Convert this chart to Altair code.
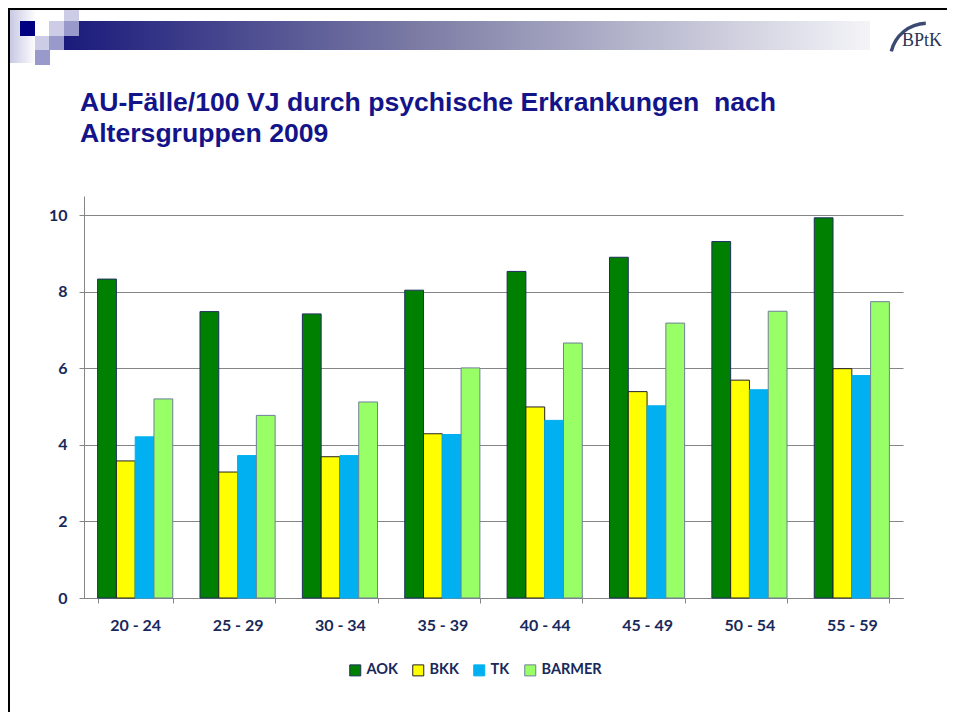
import altair as alt
import pandas as pd

# ---------------- data ----------------
groups = ["20 - 24", "25 - 29", "30 - 34", "35 - 39", "40 - 44", "45 - 49", "50 - 54", "55 - 59"]
series = ["AOK", "BKK", "TK", "BARMER"]
aok = [8.33, 7.48, 7.42, 8.04, 8.53, 8.90, 9.31, 9.93]
bkk = [3.58, 3.29, 3.69, 4.29, 4.99, 5.39, 5.69, 5.99]
tk = [4.21, 3.72, 3.72, 4.27, 4.64, 5.02, 5.44, 5.81]
barmer = [5.20, 4.77, 5.12, 6.01, 6.66, 7.18, 7.49, 7.74]
y_ticks = [0, 2, 4, 6, 8, 10]
title_lines = ["AU-Fälle/100 VJ durch psychische Erkrankungen \u00a0nach", "Altersgruppen 2009"]
logo_text = "BPtK"

fills = ["#008000", "#FFFF00", "#00B0F0", "#99FF66"]
strokes = ["#1F2F5F", "#222222", "#00B0F0", "#6F7F99"]

rows = []
for name, vals in zip(series, [aok, bkk, tk, barmer]):
    for g, v in zip(groups, vals):
        rows.append({"Altersgruppe": g, "Kasse": name, "Wert": v})
df = pd.DataFrame(rows)

# ---------------- layout ----------------
PX0, PY0 = 84, 196          # page position of plot origin
W, H = 819, 402
PAD = {"left": PX0 - 8, "top": PY0 - 8, "right": 939 - (PX0 - 8) - W, "bottom": 704 - (PY0 - 8) - H}

def px(x):
    return x - PX0

def py(y):
    return y - PY0

LABEL = "#18295A"
GRID = "#858585"
TITLE_C = "#14148A"

one = pd.DataFrame({"k": [0]})

stroke_expr = " : ".join(
    [f"datum.value === '{s}' ? '{c}'" for s, c in zip(series, strokes)]) + " : '#333333'"

bars = alt.Chart(df).mark_bar(strokeWidth=1).encode(
    x=alt.X("Altersgruppe:N", sort=groups,
            scale=alt.Scale(paddingInner=0.266, paddingOuter=0.133),
            axis=alt.Axis(title=None, labelAngle=0, tickBand="extent", grid=False,
                          domainColor=GRID, tickColor=GRID, tickSize=5,
                          labelFont="Lato", labelFontSize=16, labelFontWeight="bold",
                          labelColor=LABEL, labelPadding=14)),
    xOffset=alt.XOffset("Kasse:N", sort=series,
                        scale=alt.Scale(paddingInner=0, paddingOuter=0)),
    y=alt.Y("Wert:Q", scale=alt.Scale(domain=[0, 10.5], nice=False),
            axis=alt.Axis(title=None, values=y_ticks, grid=True, gridColor=GRID,
                          domainColor=GRID, tickColor=GRID, tickSize=5,
                          labelFont="Lato", labelFontSize=16, labelFontWeight="bold",
                          labelColor=LABEL, labelPadding=12)),
    color=alt.Color("Kasse:N", sort=series,
                    scale=alt.Scale(domain=series, range=fills),
                    legend=alt.Legend(title=None, orient="none", legendX=264, legendY=467,
                                      direction="horizontal", symbolType="square",
                                      symbolSize=121, symbolStrokeWidth=1,
                                      symbolStrokeColor=alt.ExprRef(expr=stroke_expr),
                                      labelFont="Lato", labelFontSize=14.5,
                                      labelFontWeight="bold", labelColor=LABEL,
                                      labelOffset=4, columnPadding=12)),
    stroke=alt.Stroke("Kasse:N", sort=series,
                      scale=alt.Scale(domain=series, range=strokes),
                      legend=None),
)

# ---------------- decorations ----------------
border_top = alt.Chart(one).mark_rule(color="black", strokeWidth=2).encode(
    x=alt.value(-PAD["left"]), x2=alt.value(939 - PAD["left"]), y=alt.value(py(9)))
border_left = alt.Chart(one).mark_rule(color="black", strokeWidth=2).encode(
    x=alt.value(px(9)), y=alt.value(-PAD["top"]), y2=alt.value(704 - PAD["top"]))

header_grad = alt.LinearGradient(
    gradient="linear", x1=0, x2=1, y1=0, y2=0,
    stops=[alt.GradientStop(color="#1A1A7C", offset=0),
           alt.GradientStop(color="#7E7EA6", offset=0.45),
           alt.GradientStop(color="#F4F4F8", offset=1)])
header_bar = alt.Chart(one).mark_rect(color=header_grad).encode(
    x=alt.value(px(64)), x2=alt.value(px(870)), y=alt.value(py(21)), y2=alt.value(py(50)))

left_grad = alt.LinearGradient(
    gradient="linear", x1=0, x2=1, y1=0, y2=0,
    stops=[alt.GradientStop(color="#C8C8E4", offset=0),
           alt.GradientStop(color="#FFFFFF", offset=1)])
left_strip = alt.Chart(one).mark_rect(color=left_grad).encode(
    x=alt.value(px(10)), x2=alt.value(px(36)), y=alt.value(py(10)), y2=alt.value(py(63)))

sq = pd.DataFrame({
    "x": [px(v) for v in [20, 64, 49, 64, 35, 49, 35]],
    "x2": [px(v) for v in [35, 79, 64, 79, 49, 64, 50]],
    "y": [py(v) for v in [21, 9, 21, 21, 36, 36, 50]],
    "y2": [py(v) for v in [36, 21, 36, 36, 50, 50, 65]],
    "c": ["#000080", "#CCCCE6", "#CCCCE6", "#9999CC", "#CCCCE6", "#9999CC", "#9999CC"],
})
squares = alt.Chart(sq).mark_rect().encode(
    x=alt.X("x:Q", scale=None), x2="x2:Q",
    y=alt.Y("y:Q", scale=None), y2="y2:Q",
    color=alt.Color("c:N", scale=None))

logo_arc = alt.Chart(one).mark_arc(innerRadius=35, outerRadius=38.5, theta=4.95, theta2=6.25,
                                   color="#3A4A70").encode(
    x=alt.value(px(927)), y=alt.value(py(60)))
logo = alt.Chart(one).mark_text(font="Liberation Serif", fontSize=18, color="#2A3552",
                                align="center", baseline="alphabetic").encode(
    text=alt.value(logo_text), x=alt.value(px(922)), y=alt.value(py(46)))

title1 = alt.Chart(one).mark_text(font="Liberation Sans", fontSize=26.6, fontWeight="bold",
                                  color=TITLE_C, align="left", baseline="alphabetic").encode(
    text=alt.value(title_lines[0]), x=alt.value(px(80)), y=alt.value(py(111)))
title2 = alt.Chart(one).mark_text(font="Liberation Sans", fontSize=26.6, fontWeight="bold",
                                  color=TITLE_C, align="left", baseline="alphabetic").encode(
    text=alt.value(title_lines[1]), x=alt.value(px(80)), y=alt.value(py(142)))

chart = alt.layer(
    bars, left_strip, header_bar, squares, border_top, border_left,
    logo_arc, logo, title1, title2
).resolve_scale(color="independent").properties(
    width=W, height=H,
    autosize=alt.AutoSizeParams(type="none"),
    padding=PAD,
    background="white",
).configure_view(strokeWidth=0, stroke=None)

chart.save("out.html", embed_options={"renderer": "svg", "actions": False})
